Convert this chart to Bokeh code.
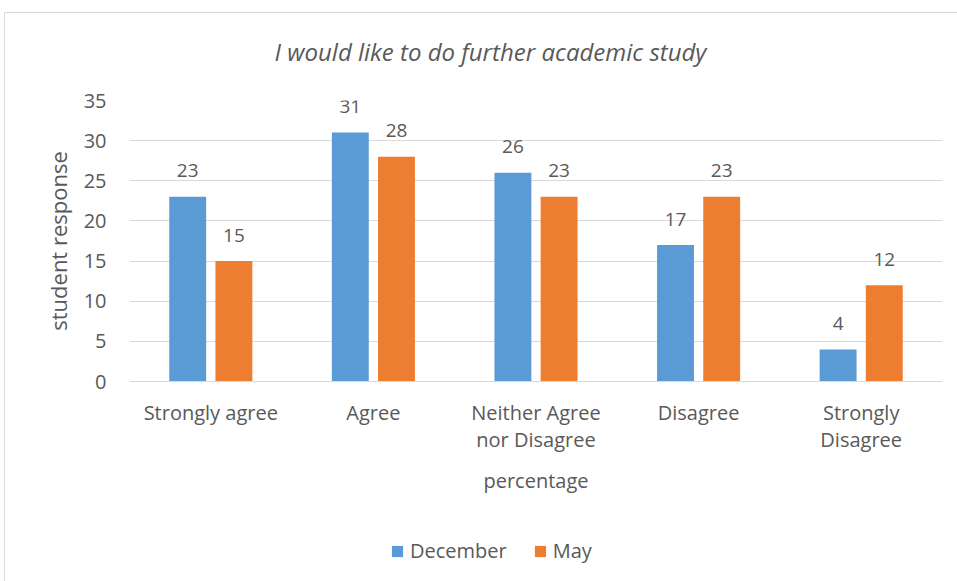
from bokeh.plotting import figure
from bokeh.models import ColumnDataSource, Legend, LegendItem, FixedTicker, Range1d, Label
from bokeh.layouts import column
from bokeh.core.properties import value
from bokeh.transform import dodge
from bokeh.embed import file_html
from bokeh.resources import INLINE

title_text = "I would like to do further academic study"
categories = ["Strongly agree", "Agree", "Neither Agree\nnor Disagree", "Disagree", "Strongly\nDisagree"]
december = [23, 31, 26, 17, 4]
may = [15, 28, 23, 23, 12]
y_ticks = [0, 5, 10, 15, 20, 25, 30, 35]

FONT = "Open Sans"
TXT = "#595959"
BLUE = "#5B9BD5"
ORANGE = "#ED7D31"

idx = list(range(len(categories)))
src = ColumnDataSource(dict(
    x=idx, dec=december, may=may,
    dec_t=[str(v) for v in december], may_t=[str(v) for v in may],
))

# title strip (pixel-scaled ranges so the title can sit where the original has it)
t = figure(width=953, height=75, output_backend="svg", toolbar_location=None,
           x_range=Range1d(0, 813), y_range=Range1d(0, 75), min_border=0)
t.axis.visible = False
t.grid.grid_line_color = None
t.outline_line_color = None
t.add_layout(Label(x=361, y=37, text=title_text, text_font=FONT, text_font_style="italic",
                   text_font_size="24px", text_color=TXT, text_align="center",
                   text_baseline="middle"))

p = figure(width=953, height=440, output_backend="svg", toolbar_location=None,
           x_range=Range1d(-0.5, len(categories) - 0.5), y_range=Range1d(0, 35),
           min_border_left=124, min_border_right=16, min_border_top=12, min_border_bottom=147)

r1 = p.vbar(x=dodge("x", -0.142, range=p.x_range), top="dec", width=0.227, source=src,
            fill_color=BLUE, line_color=None)
r2 = p.vbar(x=dodge("x", 0.142, range=p.x_range), top="may", width=0.227, source=src,
            fill_color=ORANGE, line_color=None)

p.text(x=dodge("x", -0.142, range=p.x_range), y="dec", text="dec_t", source=src,
       text_font=value(FONT), text_font_size="19px", text_color=TXT,
       text_align="center", text_baseline="middle", y_offset=-26)
p.text(x=dodge("x", 0.142, range=p.x_range), y="may", text="may_t", source=src,
       text_font=value(FONT), text_font_size="19px", text_color=TXT,
       text_align="center", text_baseline="middle", y_offset=-26)

# axes
p.xaxis.ticker = FixedTicker(ticks=idx)
p.xaxis.major_label_overrides = {i: c for i, c in enumerate(categories)}
p.yaxis.ticker = FixedTicker(ticks=y_ticks)
for ax in (p.xaxis[0], p.yaxis[0]):
    ax.major_label_text_font = FONT
    ax.major_label_text_color = TXT
    ax.axis_label_text_font = FONT
    ax.axis_label_text_font_style = "normal"
    ax.axis_label_text_color = TXT
    ax.major_tick_line_color = None
    ax.minor_tick_line_color = None
p.xaxis.major_label_text_font_size = "20px"
p.xaxis.major_label_text_line_height = 1.03
p.yaxis.major_label_text_font_size = "20px"
p.xaxis.axis_label_text_font_size = "20px"
p.yaxis.axis_label_text_font_size = "22px"
p.xaxis.axis_line_color = "#d9d9d9"
p.yaxis.axis_line_color = None
p.xaxis.major_label_standoff = 11
p.yaxis.major_label_standoff = 17
p.xaxis.axis_label = "percentage"
p.yaxis.axis_label = "student response"
p.xaxis.axis_label_standoff = 11
p.yaxis.axis_label_standoff = 8

p.xgrid.grid_line_color = None
p.ygrid.grid_line_color = "#d9d9d9"
p.ygrid.grid_line_width = 1.2
p.outline_line_color = None

# legend strip below the chart
q = figure(width=953, height=54, output_backend="svg", toolbar_location=None,
           x_range=Range1d(-0.5, len(categories) - 0.5), y_range=Range1d(0, 35),
           min_border=0)
q.axis.visible = False
q.grid.grid_line_color = None
q.outline_line_color = None
lr1 = q.vbar(x="x", top="dec", width=0.2, source=src, fill_color=BLUE, line_color=None, visible=False)
lr2 = q.vbar(x="x", top="may", width=0.2, source=src, fill_color=ORANGE, line_color=None, visible=False)
legend = Legend(items=[LegendItem(label="December", renderers=[lr1]),
                       LegendItem(label="May", renderers=[lr2])],
                orientation="horizontal", location=(261, 18),
                label_text_font=FONT, label_text_font_size="20px", label_text_color=TXT,
                glyph_width=14, glyph_height=14, spacing=26, padding=0, margin=0,
                background_fill_alpha=0, border_line_color=None, label_standoff=6,
                inactive_fill_alpha=0)
q.add_layout(legend, "center")

layout = column(t, p, q, spacing=0,
                styles={"margin-left": "4px", "margin-top": "12px",
                        "border-left": "1px solid #d9d9d9", "border-top": "1px solid #d9d9d9"})

open("out.html", "w").write(file_html(layout, INLINE))
